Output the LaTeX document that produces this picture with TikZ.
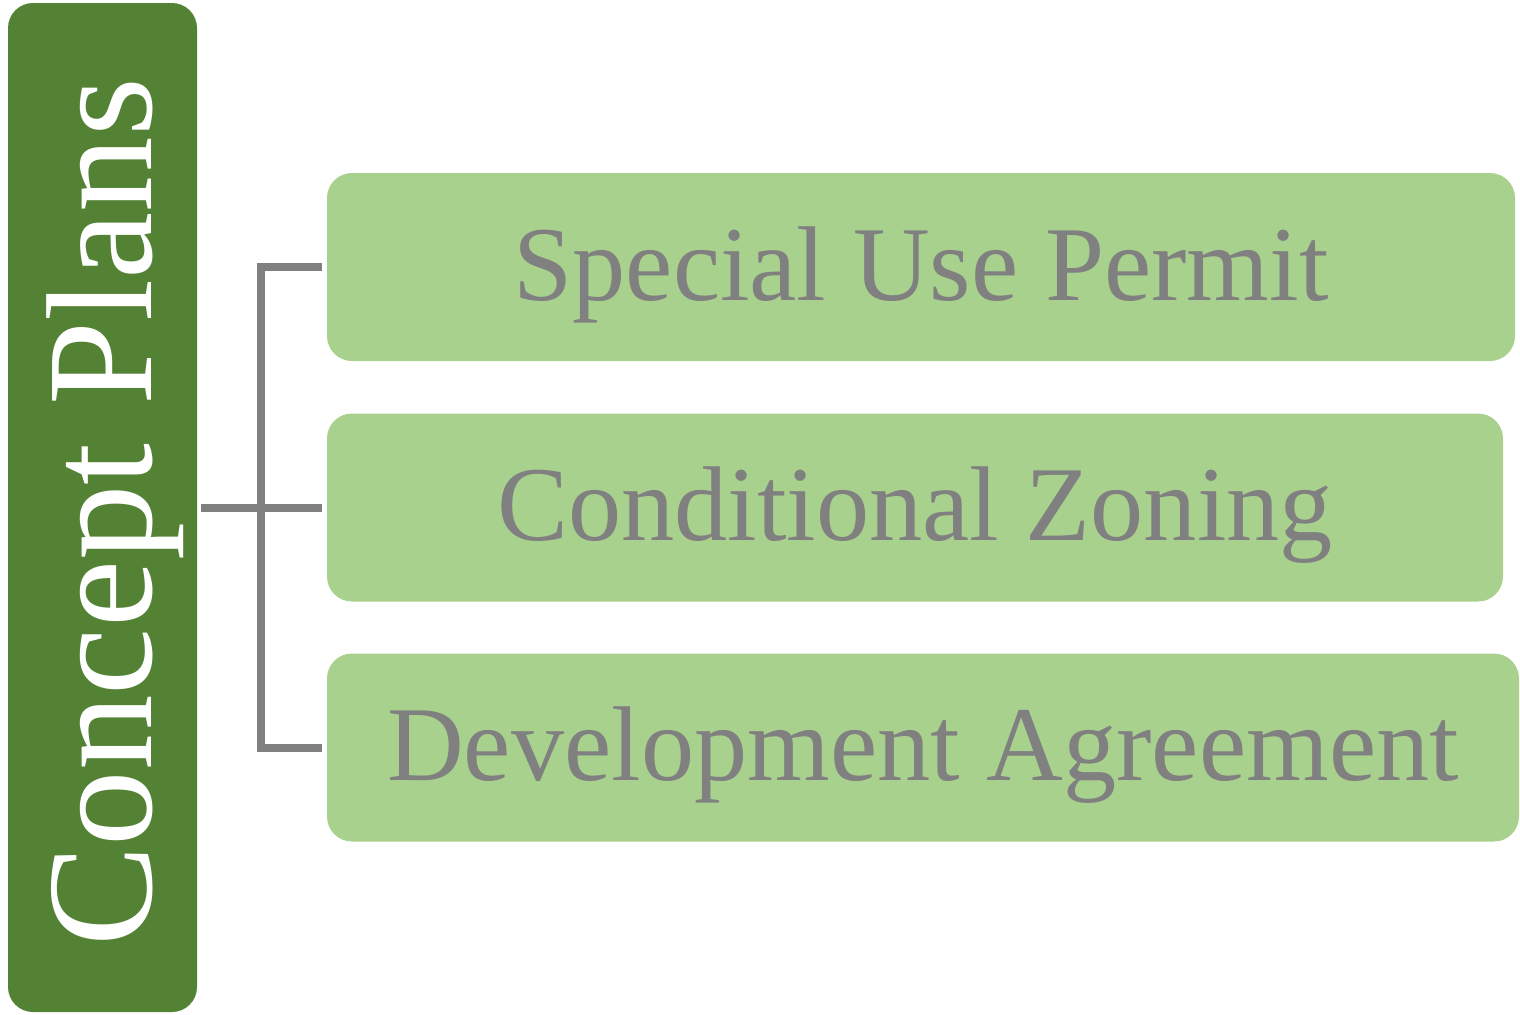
\documentclass[tikz,border=0pt]{standalone}
\usepackage{fontspec}
\setmainfont{Liberation Serif}
\usetikzlibrary{positioning}
\definecolor{plangreen}{HTML}{548235}
\definecolor{itemgreen}{HTML}{A9D18E}
\definecolor{linegray}{HTML}{808080}

\begin{document}
\begin{tikzpicture}[semithick]
  \tikzstyle{head}=[rectangle,rounded corners=0.5cm,fill=plangreen,
                    minimum width=3.78cm,minimum height=20.18cm,inner sep=0pt]
  \tikzstyle{headtext}=[rotate=90,text=white,inner sep=0pt,
                        text height=2.48cm,text depth=0.52cm,
                        font=\fontsize{86}{92}\selectfont]
  \tikzstyle{item}=[rectangle,rounded corners=0.5cm,fill=itemgreen,text=linegray,
                    minimum height=3.76cm,inner sep=0pt,
                    text height=1.82cm,text depth=0.5cm,
                    font=\fontsize{60.5}{66}\selectfont]
  \tikzstyle{conn}=[draw=linegray,line width=0.16cm]

  \useasboundingbox (0,0) rectangle (30.4,-20.28);

  \node[head] (cp) at (2.05,-10.15) {};
  \node[headtext] (cptext) at ([yshift=-0.1cm]cp.center) {Concept Plans};

  \node[item,minimum width=23.76cm] (sup) at (18.42,-5.34)  {Special Use Permit};
  \node[item,minimum width=23.52cm] (cz)  at (18.30,-10.15) {Conditional Zoning};
  \node[item,minimum width=23.84cm] (dev) at (18.46,-14.95) {Development Agreement};

  \draw[conn,shorten <=0.06cm,shorten >=0.08cm] (cp.east) -- (cz.west);
  \draw[conn,shorten <=0.08cm,shorten >=0.08cm] (sup.west) -- ++(-1.3,0) |- (dev.west);
\end{tikzpicture}
\end{document}
